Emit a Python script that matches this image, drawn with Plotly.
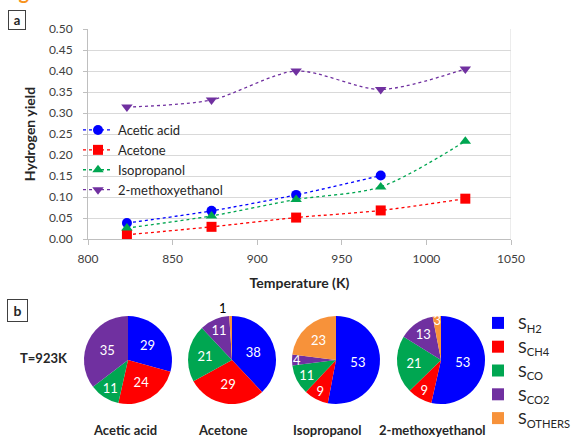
import plotly.graph_objects as go

W, H = 571, 437
FONT = "Lato"

# ---- panel a data ----
temps = [823, 873, 923, 973, 1023]
acetic = [0.038, 0.067, 0.105, 0.151, None]
acetone = [0.010, 0.029, 0.051, 0.068, 0.096]
isoprop = [0.026, 0.055, 0.094, 0.124, 0.233]
methoxy = [0.314, 0.331, 0.400, 0.356, 0.405]

series_names = ["Acetic acid", "Acetone", "Isopropanol", "2-methoxyethanol"]
series_colors = ["#0000FF", "#FF0000", "#00A651", "#7030A0"]
series_symbols = ["circle", "square", "triangle-up", "triangle-down"]

# ---- panel b data ----
pie_names = ["Acetic acid", "Acetone", "Isopropanol", "2-methoxyethanol"]
pie_labels = ["S<sub>H2</sub>", "S<sub>CH4</sub>", "S<sub>CO</sub>", "S<sub>CO2</sub>", "S<sub>OTHERS</sub>"]
pie_values = [
    [29, 24, 11, 35, 0],
    [38, 29, 21, 11, 1],
    [53, 9, 11, 4, 23],
    [53, 9, 21, 13, 3],
]
pie_colors = ["#0000FF", "#FF0000", "#00A651", "#7030A0", "#F7923A"]

fig = go.Figure()

for name, ys, c, s in zip(series_names, [acetic, acetone, isoprop, methoxy],
                          series_colors, series_symbols):
    fig.add_trace(go.Scatter(
        x=temps, y=ys, name=name, mode="lines+markers",
        line=dict(color=c, width=1.3, dash="dot", shape="spline", smoothing=0.8),
        marker=dict(color=c, symbol=s, size=10),
        legend="legend", connectgaps=False,
    ))

# pie centers (px) and radius
centers = [128, 232, 336, 441]
cy = 360
r = 44
for i, (vals, nm) in enumerate(zip(pie_values, pie_names)):
    cx = centers[i]
    tp = ["inside" if v >= 2 else "outside" for v in vals]
    txt = [str(v) if v > 0 else "" for v in vals]
    fig.add_trace(go.Pie(
        labels=pie_labels, values=vals, sort=False, direction="clockwise",
        rotation=0, marker=dict(colors=pie_colors, line=dict(width=0)),
        text=txt, textinfo="text", textposition=tp,
        insidetextorientation="horizontal",
        insidetextfont=dict(color="white", size=13, family=FONT),
        outsidetextfont=dict(color="black", size=13, family=FONT),
        domain=dict(x=[(cx - r) / W, (cx + r) / W], y=[(H - cy - r) / H, (H - cy + r) / H]),
        showlegend=(i == 0), legend="legend2", name=nm,
        hoverinfo="label+value",
    ))

x0, x1 = 88, 511
y0, y1 = 239, 29
fig.update_layout(
    width=W, height=H, margin=dict(l=0, r=0, t=0, b=0, autoexpand=False),
    paper_bgcolor="white", plot_bgcolor="white",
    font=dict(family=FONT, color="#404040"),
    uniformtext=dict(minsize=13, mode="show"),
    xaxis=dict(domain=[x0 / W, x1 / W], range=[800, 1050], dtick=50,
               showgrid=False, showline=True, linecolor="#BFBFBF", mirror=False,
               ticks="outside", ticklen=5, tickcolor="#BFBFBF", automargin=False,
               ticklabelstandoff=4,
               tickfont=dict(size=12, color="#404040"), zeroline=False,
               title=dict(text="<b>Temperature (K)</b>", font=dict(size=14, color="#262626"), standoff=12)),
    yaxis=dict(domain=[(H - y0) / H, (H - y1) / H], range=[0, 0.5], dtick=0.05,
               tickformat=".2f", showgrid=True, gridcolor="#D9D9D9",
               showline=True, linecolor="#BFBFBF", ticks="outside", ticklen=4,
               tickcolor="#BFBFBF", zeroline=False, automargin=False,
               ticklabelstandoff=8,
               tickfont=dict(size=12, color="#404040"),
               title=dict(text="<b>Hydrogen yield</b>", font=dict(size=14, color="#262626"), standoff=9)),
    legend=dict(x=78 / W, y=(H - 115) / H, xanchor="left", yanchor="top",
                bgcolor="rgba(0,0,0,0)", font=dict(size=13, color="#262626"),
                tracegroupgap=2, itemwidth=30),
    legend2=dict(x=478 / W, y=(H - 306) / H, xanchor="left", yanchor="top",
                 bgcolor="rgba(0,0,0,0)", font=dict(size=16, color="#262626"),
                 itemwidth=30, tracegroupgap=0),
)

# right border of plot area
fig.add_shape(type="line", xref="x", yref="paper", x0=1050, x1=1050,
              y0=(H - y0) / H, y1=(H - y1) / H, line=dict(color="#D9D9D9", width=1))

annots = [
    dict(text="<b>Figure 3</b>", x=0, y=1 + 9 / H, xanchor="left", yanchor="middle",
         font=dict(size=20, color="#F7931E"), showarrow=False),
    dict(text="<b>a</b>", x=8 / W, y=(H - 20) / H, xanchor="left", yanchor="middle",
         font=dict(size=13, color="#262626"), bordercolor="#404040", borderwidth=1,
         borderpad=1, showarrow=False, width=14),
    dict(text="<b>b</b>", x=7 / W, y=(H - 310) / H, xanchor="left", yanchor="middle",
         font=dict(size=14, color="#262626"), bordercolor="#404040", borderwidth=1,
         borderpad=2, showarrow=False, width=15),
    dict(text="<b>T=923K</b>", x=44 / W, y=(H - 358) / H, xanchor="center", yanchor="middle",
         font=dict(size=13, color="#262626"), showarrow=False),
]
label_x = [125, 222, 327, 432]
for nm, lx in zip(pie_names, label_x):
    annots.append(dict(text="<b>%s</b>" % nm, x=lx / W, y=(H - 430) / H,
                       xanchor="center", yanchor="middle",
                       font=dict(size=13, color="#262626"), showarrow=False))
for a in annots:
    a.setdefault("xref", "paper")
    a.setdefault("yref", "paper")
fig.update_layout(annotations=annots)

fig.write_html("out.html", config={"displayModeBar": False},
               post_script="document.body.style.margin='0';")
